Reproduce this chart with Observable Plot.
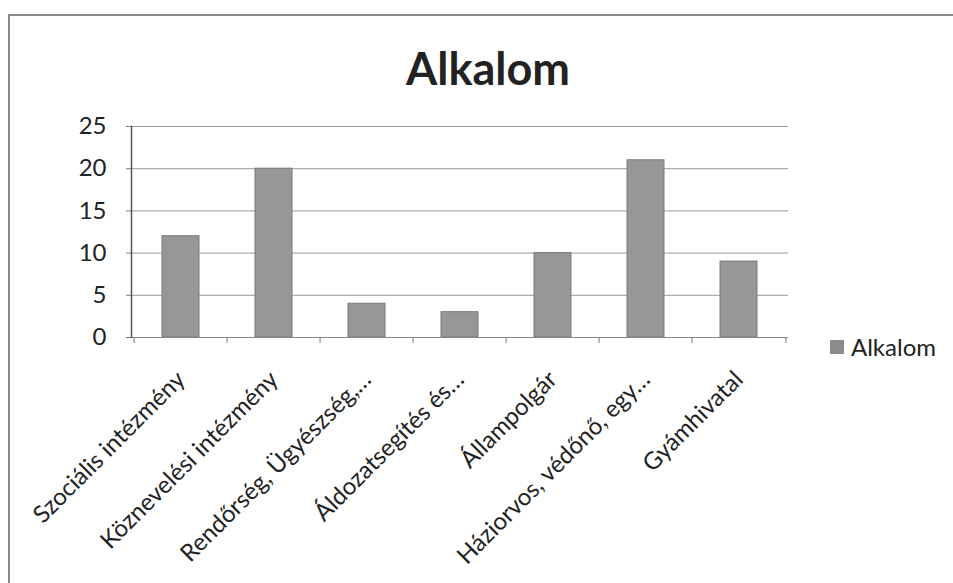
<!DOCTYPE html>
<html>
<head>
<meta charset="utf-8">
<script src="https://cdn.jsdelivr.net/npm/d3@7"></script>
<script src="https://cdn.jsdelivr.net/npm/@observablehq/plot@0.6"></script>
<style>
  html, body { margin: 0; padding: 0; background: #fff; overflow: hidden; font-family: Lato, "Open Sans", sans-serif; }
  #wrap { position: relative; width: 953px; height: 583px; overflow: hidden; background: #fff; }
  #ftop { position: absolute; left: 8px; top: 14px; width: 945px; height: 2px; background: #8a8a8a; }
  #fleft { position: absolute; left: 8px; top: 14px; width: 2px; height: 569px; background: #8a8a8a; }
  #title { position: absolute; top: 0; left: 0; width: 953px; height: 100px; }
  #title span { position: absolute; left: 488px; top: 46px; transform: translateX(-50%);
                font: bold 45px Lato, sans-serif; color: #222; line-height: 1; white-space: nowrap; }
  #chart { position: absolute; left: 0; top: 100px; }
  #legend { position: absolute; left: 830px; top: 332px; display: flex; align-items: center;
            font: 24px Lato, sans-serif; color: #222; }
  #legend i { display: inline-block; width: 14px; height: 14px; background: #8c8c8c; margin-right: 7px; }
</style>
</head>
<body>
<div id="wrap">
  <div id="ftop"></div>
  <div id="fleft"></div>
  <div id="title"><span>Alkalom</span></div>
  <div id="chart"></div>
  <div id="legend"><i></i><span>Alkalom</span></div>
</div>
<script>
const categories = [
  "Szociális intézmény",
  "Köznevelési intézmény",
  "Rendőrség, Ügyészség,…",
  "Áldozatsegítés és…",
  "Állampolgár",
  "Háziorvos, védőnő, egy…",
  "Gyámhivatal"
];
const values = [12, 20, 4, 3, 10, 21, 9];
const yTicks = [0, 5, 10, 15, 20, 25];

const data = categories.map((c, i) => ({cat: c, value: values[i]}));

const W = 953, H = 483, ML = 131, MR = 165, MT = 26, MB = 246;
const step = (W - ML - MR) / categories.length;

const chart = Plot.plot({
  width: W, height: H,
  marginLeft: ML, marginRight: MR, marginTop: MT, marginBottom: MB,
  style: {fontFamily: "Lato, sans-serif", fontSize: "20px", color: "#222", background: "transparent", overflow: "visible"},
  x: {domain: categories, paddingInner: 0.6, paddingOuter: 0.3, label: null},
  y: {domain: [0, 25], label: null},
  marks: [
    Plot.gridY(yTicks, {stroke: "#9a9a9a", strokeOpacity: 1, strokeWidth: 1}),
    Plot.barY(data, {x: "cat", y: "value", fill: "#979797", stroke: "#7a7a7a", strokeWidth: 1}),
    Plot.ruleY([0], {stroke: "#8a8a8a", strokeWidth: 1}),
    Plot.frame({anchor: "left", stroke: "#555", strokeWidth: 1.5}),
    Plot.axisY(yTicks, {tickSize: 5, tickPadding: 20, fontSize: 24, stroke: "#777", label: null}),
    Plot.axisX({tickSize: 0, tickRotate: -45, tickPadding: 38, fontSize: 24, label: null}),
    Plot.axisX({tickSize: 6, tickFormat: () => "", dx: -step / 2, stroke: "#777", label: null}),
    Plot.axisX([categories[categories.length - 1]], {tickSize: 6, tickFormat: () => "", dx: step / 2, stroke: "#777", label: null})
  ]
});
document.getElementById("chart").appendChild(chart);
</script>
</body>
</html>
